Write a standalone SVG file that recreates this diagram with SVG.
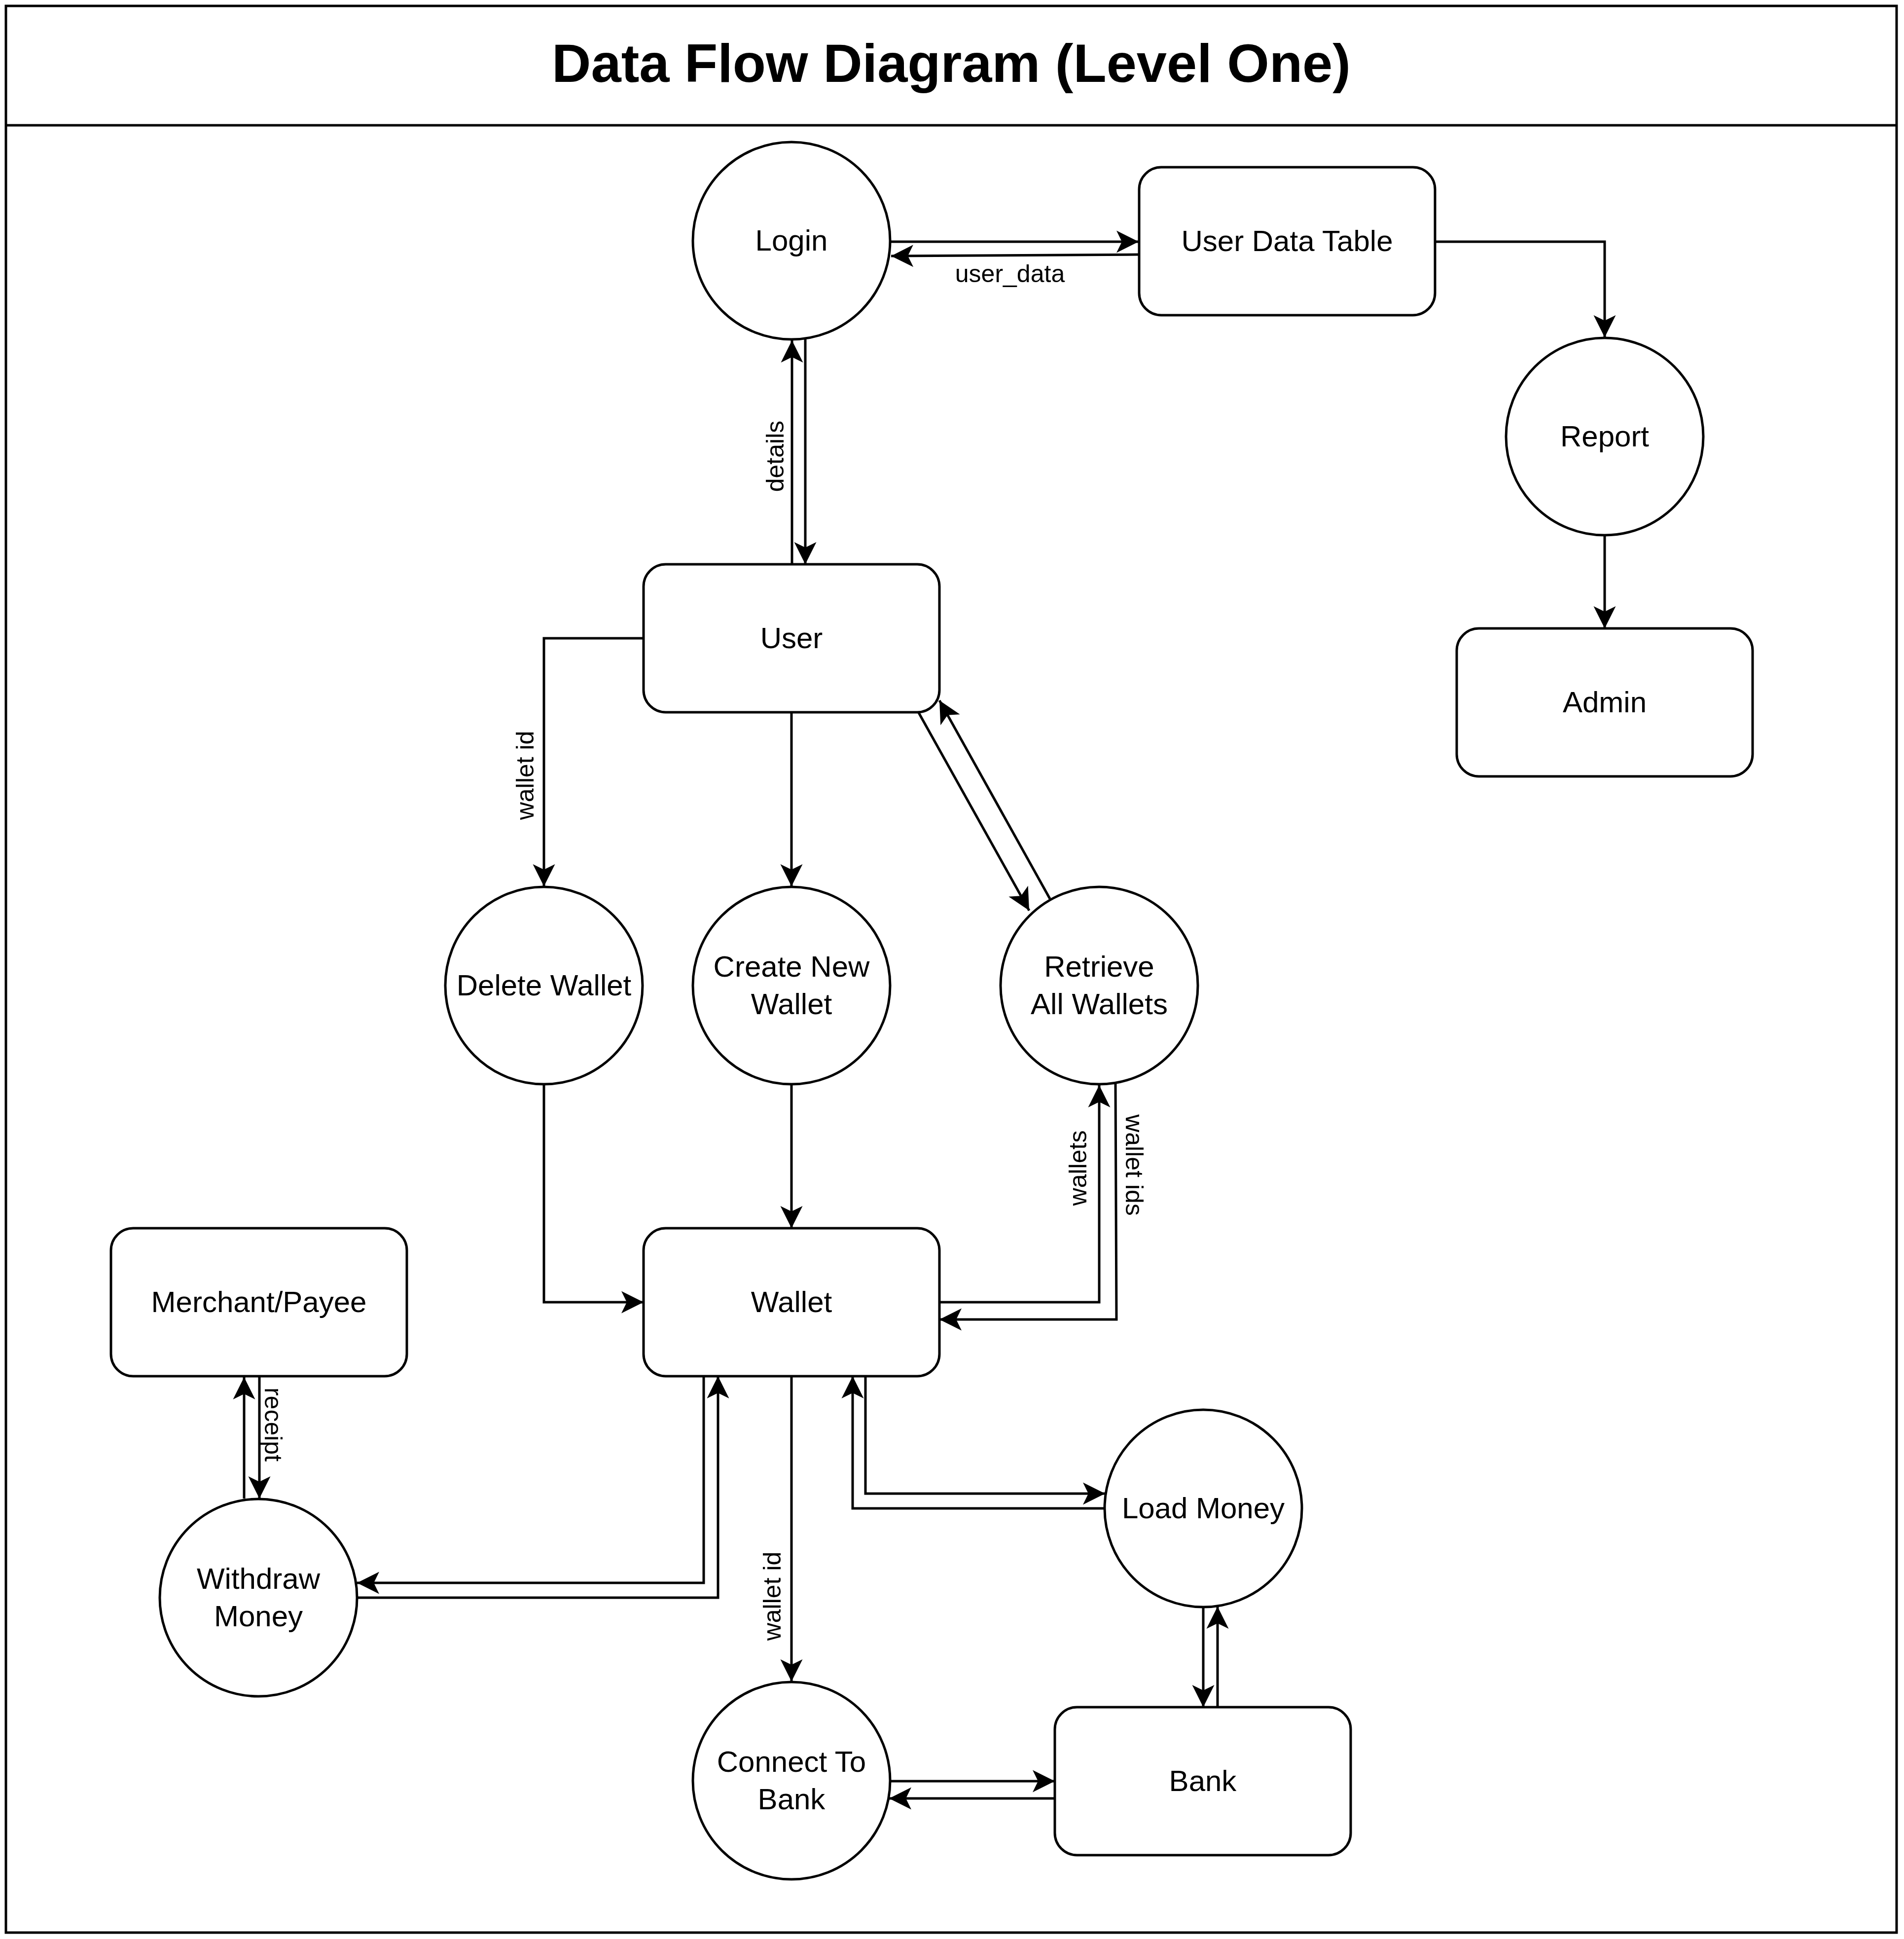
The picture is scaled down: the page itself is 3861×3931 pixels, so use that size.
<svg xmlns="http://www.w3.org/2000/svg" width="3861" height="3931" viewBox="0 0 3861 3931">
<defs>
<marker id="arr" markerUnits="userSpaceOnUse" viewBox="-47 -24 48 48" refX="0" refY="0" markerWidth="48" markerHeight="48" orient="auto">
<path d="M0,0 L-45,-22.5 L-34,0 L-45,22.5 Z" fill="#000"/>
</marker>
<style>
.n{fill:#fff;stroke:#000;stroke-width:5}
.e{fill:none;stroke:#000;stroke-width:5;marker-end:url(#arr)}
.t{font-family:"Liberation Sans",Arial,sans-serif;font-size:60px;text-anchor:middle;fill:#000}
.l{font-family:"Liberation Sans",Arial,sans-serif;font-size:50px;text-anchor:middle;fill:#000}
</style>
</defs>
<rect width="3861" height="3931" fill="#fff"/>
<g id="frame">
<rect x="12" y="12" width="3834" height="3906" fill="none" stroke="#000" stroke-width="5"/>
<line x1="12" y1="254" x2="3846" y2="254" stroke="#000" stroke-width="5"/>
<text x="1929" y="166" font-family="Liberation Sans, Arial, sans-serif" font-size="110" font-weight="bold" text-anchor="middle">Data Flow Diagram (Level One)</text>
</g>
<g id="connectors">
<path class="e" d="M1806,490 H2309"/>
<path class="e" d="M2309,516 L1807,519"/>
<text class="l" x="2048" y="572">user_data</text>
<path class="e" d="M2911,490 H3254 V684"/>
<path class="e" d="M3254,1086 V1274"/>
<path class="e" d="M1606,1144 V690"/>
<path class="e" d="M1633,687 V1144"/>
<text class="l" transform="translate(1589,925) rotate(-90)">details</text>
<path class="e" d="M1305,1294 H1103 V1797"/>
<text class="l" transform="translate(1082,1572) rotate(-90)">wallet id</text>
<path class="e" d="M1605,1444 V1797"/>
<path class="e" d="M1863,1445 L2087,1846"/>
<path class="e" d="M2129,1822 L1905,1420"/>
<path class="e" d="M1103,2199 V2640 H1305"/>
<path class="e" d="M1605,2199 V2490"/>
<path class="e" d="M1905,2640 H2229 V2200"/>
<text class="l" transform="translate(2203,2368) rotate(-90)">wallets</text>
<path class="e" d="M2262,2197 L2264,2675 H1905"/>
<text class="l" transform="translate(2283,2362) rotate(90)">wallet ids</text>
<path class="e" d="M495,3038 V2792"/>
<path class="e" d="M526,2792 V3038"/>
<text class="l" transform="translate(537,2888) rotate(90)">receipt</text>
<path class="e" d="M1427,2790 V3209 H724"/>
<path class="e" d="M725,3239 H1456 V2790"/>
<path class="e" d="M1605,2790 V3409"/>
<text class="l" transform="translate(1583,3236) rotate(-90)">wallet id</text>
<path class="e" d="M1755,2790 V3028 H2241"/>
<path class="e" d="M2239,3058 H1729 V2790"/>
<path class="e" d="M2440,3259 V3461"/>
<path class="e" d="M2469,3461 V3257"/>
<path class="e" d="M1807,3611 H2139"/>
<path class="e" d="M2139,3646 H1803"/>
</g>
<g id="login"><circle class="n" cx="1605" cy="488" r="200"/><text class="t" x="1605" y="508">Login</text></g>
<g id="user-data-table"><rect class="n" x="2310" y="339" width="600" height="300" rx="45"/><text class="t" x="2610" y="509">User Data Table</text></g>
<g id="report"><circle class="n" cx="3254" cy="885" r="200"/><text class="t" x="3254" y="905">Report</text></g>
<g id="admin"><rect class="n" x="2954" y="1274" width="600" height="300" rx="45"/><text class="t" x="3254" y="1444">Admin</text></g>
<g id="user"><rect class="n" x="1305" y="1144" width="600" height="300" rx="45"/><text class="t" x="1605" y="1314">User</text></g>
<g id="delete-wallet"><circle class="n" cx="1103" cy="1998" r="200"/><text class="t" x="1103" y="2018">Delete Wallet</text></g>
<g id="create-new-wallet"><circle class="n" cx="1605" cy="1998" r="200"/><text class="t" x="1605" y="1980">Create New</text><text class="t" x="1605" y="2056">Wallet</text></g>
<g id="retrieve-all-wallets"><circle class="n" cx="2229" cy="1998" r="200"/><text class="t" x="2229" y="1980">Retrieve</text><text class="t" x="2229" y="2056">All Wallets</text></g>
<g id="wallet"><rect class="n" x="1305" y="2490" width="600" height="300" rx="45"/><text class="t" x="1605" y="2660">Wallet</text></g>
<g id="merchant-payee"><rect class="n" x="225" y="2490" width="600" height="300" rx="45"/><text class="t" x="525" y="2660">Merchant/Payee</text></g>
<g id="withdraw-money"><circle class="n" cx="524" cy="3239" r="200"/><text class="t" x="524" y="3221">Withdraw</text><text class="t" x="524" y="3297">Money</text></g>
<g id="load-money"><circle class="n" cx="2440" cy="3058" r="200"/><text class="t" x="2440" y="3078">Load Money</text></g>
<g id="connect-to-bank"><circle class="n" cx="1605" cy="3610" r="200"/><text class="t" x="1605" y="3592">Connect To</text><text class="t" x="1605" y="3668">Bank</text></g>
<g id="bank"><rect class="n" x="2139" y="3461" width="600" height="300" rx="45"/><text class="t" x="2439" y="3631">Bank</text></g>
</svg>
